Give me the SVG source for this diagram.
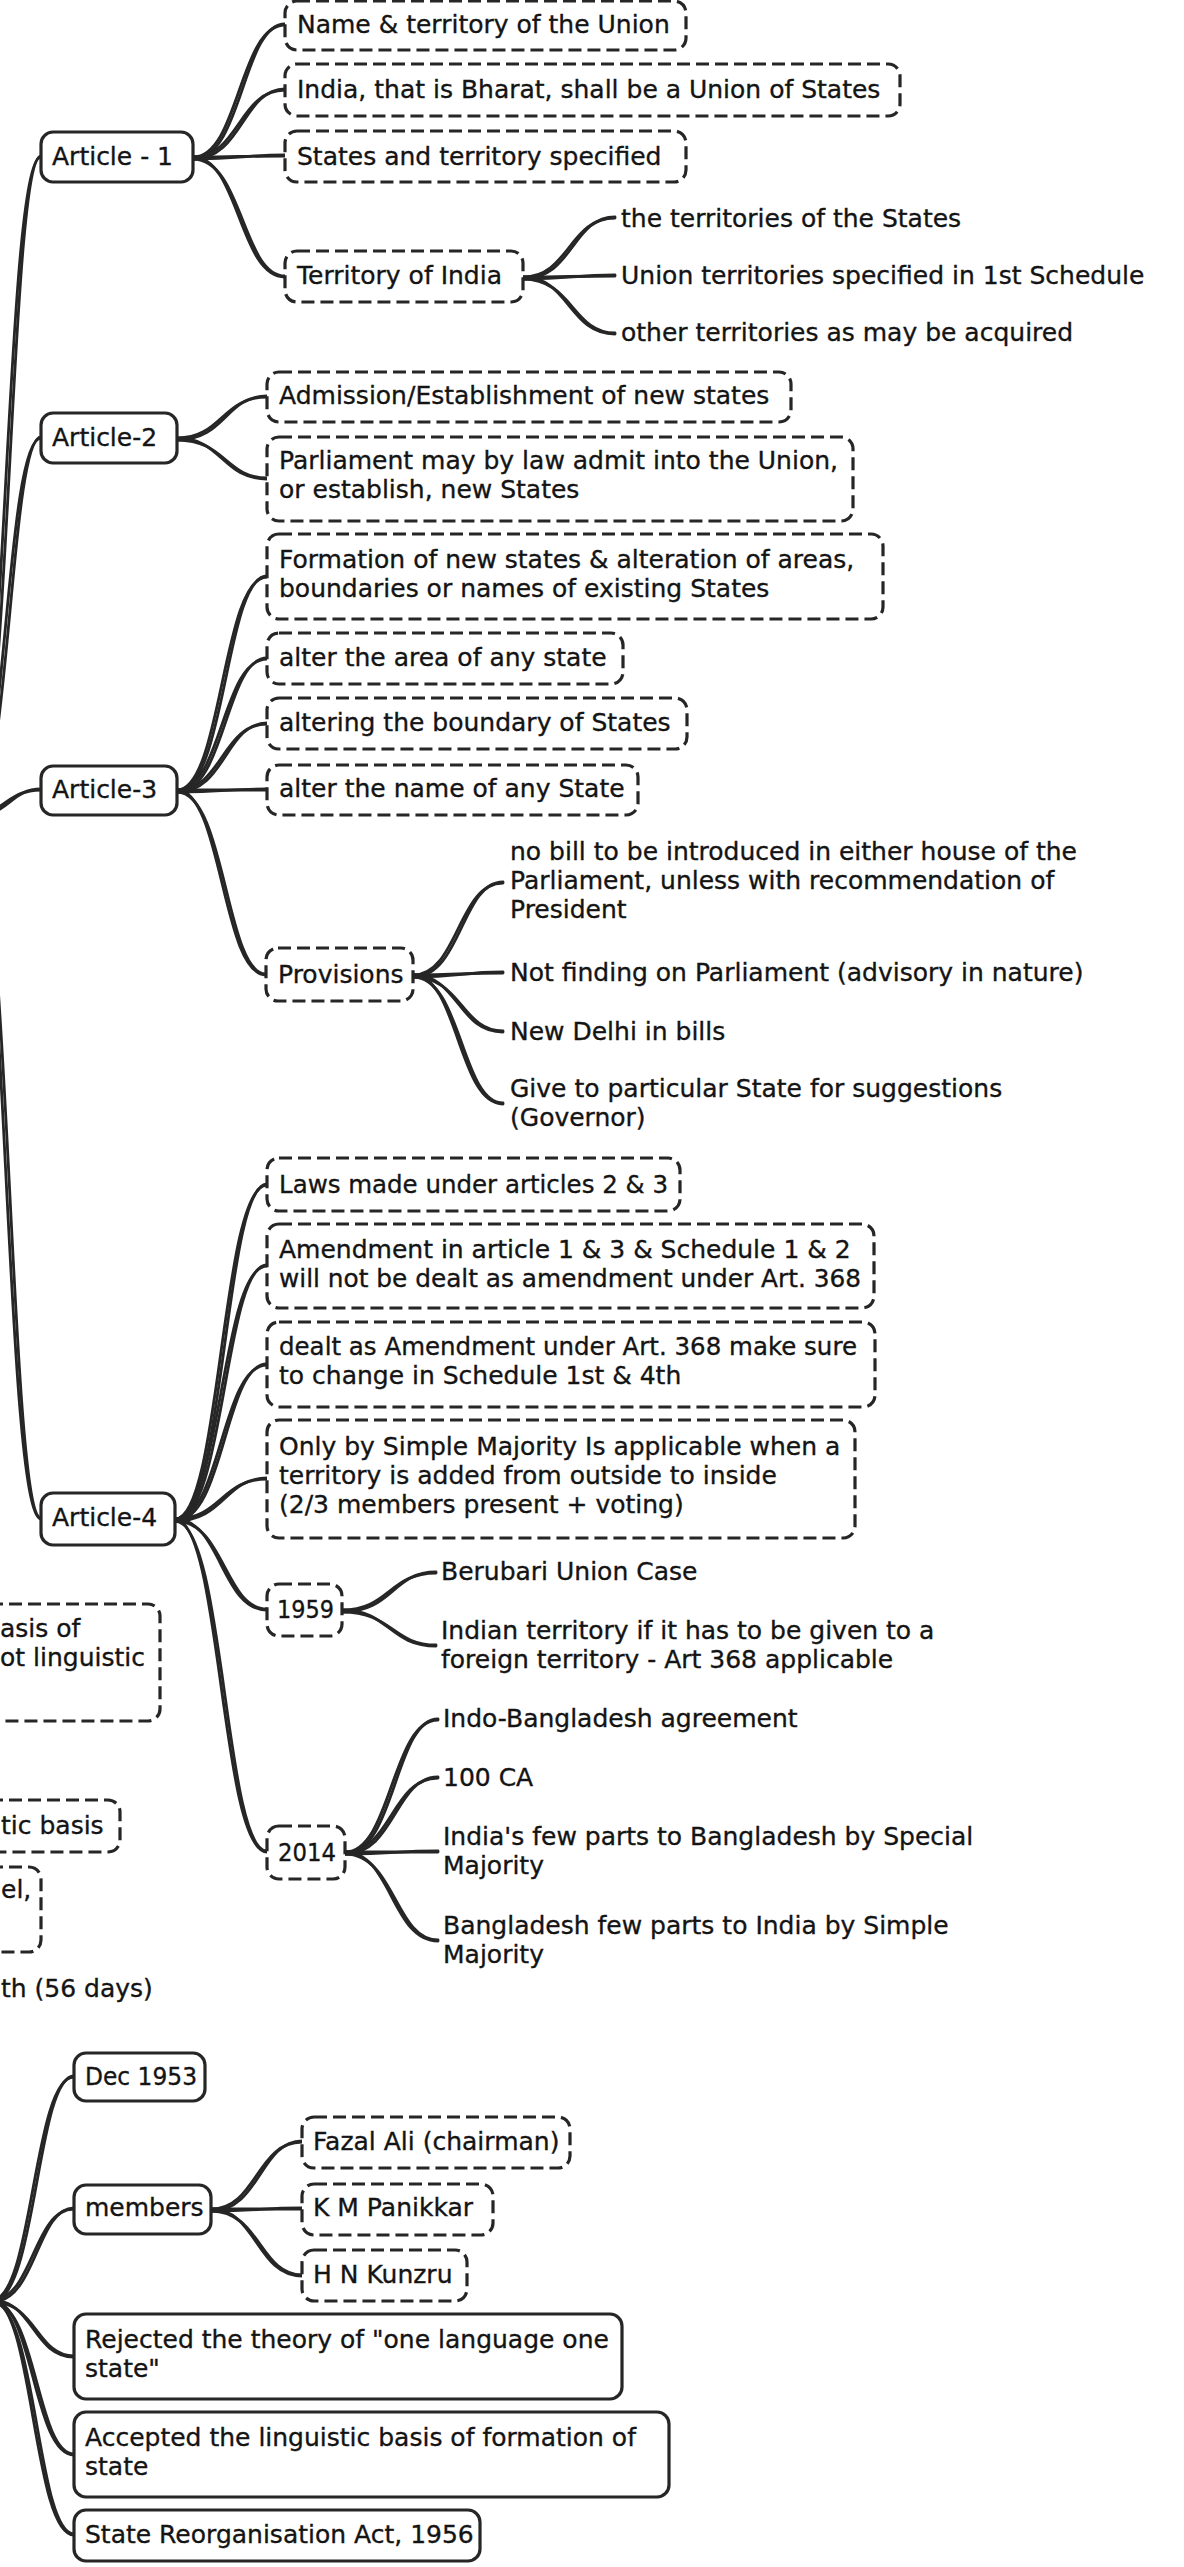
<svg xmlns="http://www.w3.org/2000/svg" width="1184" height="2567" viewBox="0 0 1184 2567">
<style>
  .bx{fill:#fff;stroke:#262626;stroke-width:3.2}
  .dsh{stroke-dasharray:13 6}
  .t{font-family:"DejaVu Sans",sans-serif;font-size:25px;fill:#141414;stroke:#141414;stroke-width:0.35}
  .c path{fill:none;stroke:#262626;stroke-width:2.8;stroke-linecap:round}
</style>
<rect width="1184" height="2567" fill="#fff"/>

<!-- connectors: each link is drawn twice with a small offset for the sketched look -->
<g id="connectors" class="c">
  <!-- upper root to articles -->
  <path d="M-30 815 C5.5 815 5.5 157 41 157"/><path d="M-30 817 C9.5 817 9.5 156 41 156"/>
  <path d="M-30 815 C5.5 815 5.5 438 41 438"/><path d="M-30 817 C9.5 817 9.5 437 41 437"/>
  <path d="M-30 815 C5.5 815 5.5 790 41 790"/><path d="M-30 817 C9.5 817 9.5 789 41 789"/>
  <path d="M-30 815 C5.5 815 5.5 1519 41 1519"/><path d="M-30 817 C9.5 817 9.5 1518 41 1518"/>
  <!-- Article - 1 -->
  <path d="M193 157 C239 157 239 25 285 25"/><path d="M193 159 C242.5 159 242.5 24 285 24"/>
  <path d="M193 157 C239 157 239 90 285 90"/><path d="M193 159 C242.5 159 242.5 89 285 89"/>
  <path d="M193 157 C239 157 239 156 285 156"/><path d="M193 159 C242.5 159 242.5 155 285 155"/>
  <path d="M193 157 C239 157 239 277 285 277"/><path d="M193 159 C242.5 159 242.5 276 285 276"/>
  <!-- Territory of India -->
  <path d="M523 277 C569 277 569 218 615 218"/><path d="M523 279 C572.5 279 572.5 217 615 217"/>
  <path d="M523 277 C569 277 569 276 615 276"/><path d="M523 279 C572.5 279 572.5 275 615 275"/>
  <path d="M523 277 C569 277 569 334 615 334"/><path d="M523 279 C572.5 279 572.5 333 615 333"/>
  <!-- Article-2 -->
  <path d="M177 438 C222 438 222 397 267 397"/><path d="M177 440 C225.5 440 225.5 396 267 396"/>
  <path d="M177 438 C222 438 222 479 267 479"/><path d="M177 440 C225.5 440 225.5 478 267 478"/>
  <!-- Article-3 -->
  <path d="M177 790 C222 790 222 577 267 577"/><path d="M177 792 C225.5 792 225.5 576 267 576"/>
  <path d="M177 790 C222 790 222 659 267 659"/><path d="M177 792 C225.5 792 225.5 658 267 658"/>
  <path d="M177 790 C222 790 222 724 267 724"/><path d="M177 792 C225.5 792 225.5 723 267 723"/>
  <path d="M177 790 C222 790 222 790 267 790"/><path d="M177 792 C225.5 792 225.5 789 267 789"/>
  <path d="M177 790 C222 790 222 975 266 975"/><path d="M177 792 C225.5 792 225.5 974 266 974"/>
  <!-- Provisions -->
  <path d="M413 975 C458 975 458 883 503 883"/><path d="M413 977 C461.5 977 461.5 882 503 882"/>
  <path d="M413 975 C458 975 458 973 503 973"/><path d="M413 977 C461.5 977 461.5 972 503 972"/>
  <path d="M413 975 C458 975 458 1032 503 1032"/><path d="M413 977 C461.5 977 461.5 1031 503 1031"/>
  <path d="M413 975 C458 975 458 1104 503 1104"/><path d="M413 977 C461.5 977 461.5 1103 503 1103"/>
  <!-- Article-4 -->
  <path d="M175 1519 C221 1519 221 1185 267 1185"/><path d="M175 1521 C224.5 1521 224.5 1184 267 1184"/>
  <path d="M175 1519 C221 1519 221 1266 267 1266"/><path d="M175 1521 C224.5 1521 224.5 1265 267 1265"/>
  <path d="M175 1519 C221 1519 221 1365 267 1365"/><path d="M175 1521 C224.5 1521 224.5 1364 267 1364"/>
  <path d="M175 1519 C221 1519 221 1479 267 1479"/><path d="M175 1521 C224.5 1521 224.5 1478 267 1478"/>
  <path d="M175 1519 C221 1519 221 1610 267 1610"/><path d="M175 1521 C224.5 1521 224.5 1609 267 1609"/>
  <path d="M175 1519 C221 1519 221 1852 267 1852"/><path d="M175 1521 C224.5 1521 224.5 1851 267 1851"/>
  <!-- 1959 -->
  <path d="M342 1610 C389 1610 389 1573 436 1573"/><path d="M342 1612 C392.5 1612 392.5 1572 436 1572"/>
  <path d="M342 1610 C389 1610 389 1646 436 1646"/><path d="M342 1612 C392.5 1612 392.5 1645 436 1645"/>
  <!-- 2014 -->
  <path d="M345 1852 C391.5 1852 391.5 1720 438 1720"/><path d="M345 1854 C395 1854 395 1719 438 1719"/>
  <path d="M345 1852 C391.5 1852 391.5 1778 438 1778"/><path d="M345 1854 C395 1854 395 1777 438 1777"/>
  <path d="M345 1852 C391.5 1852 391.5 1852 438 1852"/><path d="M345 1854 C395 1854 395 1851 438 1851"/>
  <path d="M345 1852 C391.5 1852 391.5 1941 438 1941"/><path d="M345 1854 C395 1854 395 1940 438 1940"/>
  <!-- lower root -->
  <path d="M-8 2300 C33 2300 33 2077 74 2077"/><path d="M-8 2302 C36.5 2302 36.5 2076 74 2076"/>
  <path d="M-8 2300 C33 2300 33 2209 74 2209"/><path d="M-8 2302 C36.5 2302 36.5 2208 74 2208"/>
  <path d="M-8 2300 C33 2300 33 2357 74 2357"/><path d="M-8 2302 C36.5 2302 36.5 2356 74 2356"/>
  <path d="M-8 2300 C33 2300 33 2455 74 2455"/><path d="M-8 2302 C36.5 2302 36.5 2454 74 2454"/>
  <path d="M-8 2300 C33 2300 33 2535 74 2535"/><path d="M-8 2302 C36.5 2302 36.5 2534 74 2534"/>
  <!-- members -->
  <path d="M211 2209 C256.5 2209 256.5 2142 302 2142"/><path d="M211 2211 C260 2211 260 2141 302 2141"/>
  <path d="M211 2209 C256.5 2209 256.5 2209 302 2209"/><path d="M211 2211 C260 2211 260 2208 302 2208"/>
  <path d="M211 2209 C256.5 2209 256.5 2276 302 2276"/><path d="M211 2211 C260 2211 260 2275 302 2275"/>
</g>

<!-- Article - 1 -->
<g id="article-1"><rect class="bx" x="41" y="132" width="152" height="50" rx="12"/><text class="t" x="52" y="165">Article - 1</text></g>
<g id="name-territory"><rect class="bx dsh" x="285" y="1" width="401" height="49" rx="12"/><text class="t" x="297" y="33">Name &amp; territory of the Union</text></g>
<g id="india-bharat"><rect class="bx dsh" x="285" y="64" width="615" height="52" rx="12"/><text class="t" x="297" y="98">India, that is Bharat, shall be a Union of States</text></g>
<g id="states-territory"><rect class="bx dsh" x="285" y="131" width="401" height="51" rx="12"/><text class="t" x="297" y="165">States and territory specified</text></g>
<g id="territory-india"><rect class="bx dsh" x="285" y="251" width="238" height="51" rx="12"/><text class="t" x="297" y="284">Territory of India</text></g>
<g id="terr-states"><text class="t" x="621" y="227">the territories of the States</text></g>
<g id="terr-union"><text class="t" x="621" y="284">Union territories specified in 1st Schedule</text></g>
<g id="terr-other"><text class="t" x="621" y="341">other territories as may be acquired</text></g>

<!-- Article-2 -->
<g id="article-2"><rect class="bx" x="41" y="413" width="136" height="50" rx="12"/><text class="t" x="52" y="446">Article-2</text></g>
<g id="admission"><rect class="bx dsh" x="267" y="372" width="524" height="50" rx="12"/><text class="t" x="279" y="404">Admission/Establishment of new states</text></g>
<g id="parliament-admit"><rect class="bx dsh" x="267" y="437" width="586" height="84" rx="12"/><text class="t" x="279" y="469">Parliament may by law admit into the Union,</text><text class="t" x="279" y="498">or establish, new States</text></g>

<!-- Article-3 -->
<g id="article-3"><rect class="bx" x="41" y="766" width="136" height="49" rx="12"/><text class="t" x="52" y="798">Article-3</text></g>
<g id="formation"><rect class="bx dsh" x="267" y="534" width="616" height="85" rx="12"/><text class="t" x="279" y="568">Formation of new states &amp; alteration of areas,</text><text class="t" x="279" y="597">boundaries or names of existing States</text></g>
<g id="alter-area"><rect class="bx dsh" x="267" y="633" width="356" height="51" rx="12"/><text class="t" x="279" y="666">alter the area of any state</text></g>
<g id="alter-boundary"><rect class="bx dsh" x="267" y="698" width="420" height="51" rx="12"/><text class="t" x="279" y="731">altering the boundary of States</text></g>
<g id="alter-name"><rect class="bx dsh" x="267" y="765" width="371" height="50" rx="12"/><text class="t" x="279" y="797">alter the name of any State</text></g>
<g id="provisions"><rect class="bx dsh" x="266" y="948" width="147" height="53" rx="12"/><text class="t" x="278" y="983">Provisions</text></g>
<g id="prov-bill"><text class="t" x="510" y="860">no bill to be introduced in either house of the</text><text class="t" x="510" y="889">Parliament, unless with recommendation of</text><text class="t" x="510" y="918">President</text></g>
<g id="prov-advisory"><text class="t" x="510" y="981">Not finding on Parliament (advisory in nature)</text></g>
<g id="prov-delhi"><text class="t" x="510" y="1040">New Delhi in bills</text></g>
<g id="prov-state"><text class="t" x="510" y="1097">Give to particular State for suggestions</text><text class="t" x="510" y="1126">(Governor)</text></g>

<!-- Article-4 -->
<g id="article-4"><rect class="bx" x="41" y="1493" width="134" height="52" rx="12"/><text class="t" x="52" y="1526">Article-4</text></g>
<g id="laws"><rect class="bx dsh" x="267" y="1158" width="413" height="53" rx="12"/><text class="t" x="279" y="1193" textLength="389" lengthAdjust="spacingAndGlyphs">Laws made under articles 2 &amp; 3</text></g>
<g id="amendment"><rect class="bx dsh" x="267" y="1224" width="607" height="84" rx="12"/><text class="t" x="279" y="1258">Amendment in article 1 &amp; 3 &amp; Schedule 1 &amp; 2</text><text class="t" x="279" y="1287" textLength="582" lengthAdjust="spacingAndGlyphs">will not be dealt as amendment under Art. 368</text></g>
<g id="dealt"><rect class="bx dsh" x="267" y="1322" width="608" height="85" rx="12"/><text class="t" x="279" y="1355" textLength="578" lengthAdjust="spacingAndGlyphs">dealt as Amendment under Art. 368 make sure</text><text class="t" x="279" y="1384">to change in Schedule 1st &amp; 4th</text></g>
<g id="simple-majority"><rect class="bx dsh" x="267" y="1420" width="588" height="118" rx="12"/><text class="t" x="279" y="1455">Only by Simple Majority Is applicable when a</text><text class="t" x="279" y="1484">territory is added from outside to inside</text><text class="t" x="279" y="1513">(2/3 members present + voting)</text></g>
<g id="y1959"><rect class="bx dsh" x="267" y="1584" width="75" height="52" rx="12"/><text class="t" x="277" y="1618" textLength="57" lengthAdjust="spacingAndGlyphs">1959</text></g>
<g id="berubari"><text class="t" x="441" y="1580">Berubari Union Case</text></g>
<g id="indian-territory"><text class="t" x="441" y="1639">Indian territory if it has to be given to a</text><text class="t" x="441" y="1668">foreign territory - Art 368 applicable</text></g>
<g id="y2014"><rect class="bx dsh" x="267" y="1826" width="78" height="53" rx="12"/><text class="t" x="278" y="1861" textLength="58" lengthAdjust="spacingAndGlyphs">2014</text></g>
<g id="indo-bangladesh"><text class="t" x="443" y="1727">Indo-Bangladesh agreement</text></g>
<g id="ca100"><text class="t" x="443" y="1786">100 CA</text></g>
<g id="special-majority"><text class="t" x="443" y="1845">India's few parts to Bangladesh by Special</text><text class="t" x="443" y="1874">Majority</text></g>
<g id="simple-majority-bd"><text class="t" x="443" y="1934">Bangladesh few parts to India by Simple</text><text class="t" x="443" y="1963">Majority</text></g>

<!-- nodes whose left part runs past the edge of the sheet -->
<g id="left-basis"><rect class="bx dsh" x="-60" y="1604" width="220" height="117" rx="12"/><text class="t" x="0" y="1637">asis of</text><text class="t" x="0" y="1666">ot linguistic</text></g>
<g id="left-tic"><rect class="bx dsh" x="-60" y="1800" width="180" height="52" rx="12"/><text class="t" x="1" y="1834">tic basis</text></g>
<g id="left-el"><rect class="bx dsh" x="-60" y="1867" width="101" height="85" rx="12"/><text class="t" x="1" y="1898">el,</text></g>
<g id="left-days"><text class="t" x="1" y="1997">th (56 days)</text></g>

<!-- commission -->
<g id="dec1953"><rect class="bx" x="74" y="2053" width="131" height="48" rx="12"/><text class="t" x="85" y="2085" textLength="112" lengthAdjust="spacingAndGlyphs">Dec 1953</text></g>
<g id="members"><rect class="bx" x="74" y="2185" width="137" height="49" rx="12"/><text class="t" x="85" y="2216">members</text></g>
<g id="fazal-ali"><rect class="bx dsh" x="302" y="2117" width="268" height="51" rx="12"/><text class="t" x="313" y="2150">Fazal Ali (chairman)</text></g>
<g id="panikkar"><rect class="bx dsh" x="302" y="2184" width="191" height="51" rx="12"/><text class="t" x="313" y="2216">K M Panikkar</text></g>
<g id="kunzru"><rect class="bx dsh" x="302" y="2250" width="165" height="51" rx="12"/><text class="t" x="313" y="2283">H N Kunzru</text></g>
<g id="rejected"><rect class="bx" x="74" y="2314" width="548" height="85" rx="12"/><text class="t" x="85" y="2348">Rejected the theory of "one language one</text><text class="t" x="85" y="2377">state"</text></g>
<g id="accepted"><rect class="bx" x="74" y="2412" width="595" height="85" rx="12"/><text class="t" x="85" y="2446">Accepted the linguistic basis of formation of</text><text class="t" x="85" y="2475">state</text></g>
<g id="sra1956"><rect class="bx" x="74" y="2510" width="406" height="51" rx="12"/><text class="t" x="85" y="2543">State Reorganisation Act, 1956</text></g>
</svg>
